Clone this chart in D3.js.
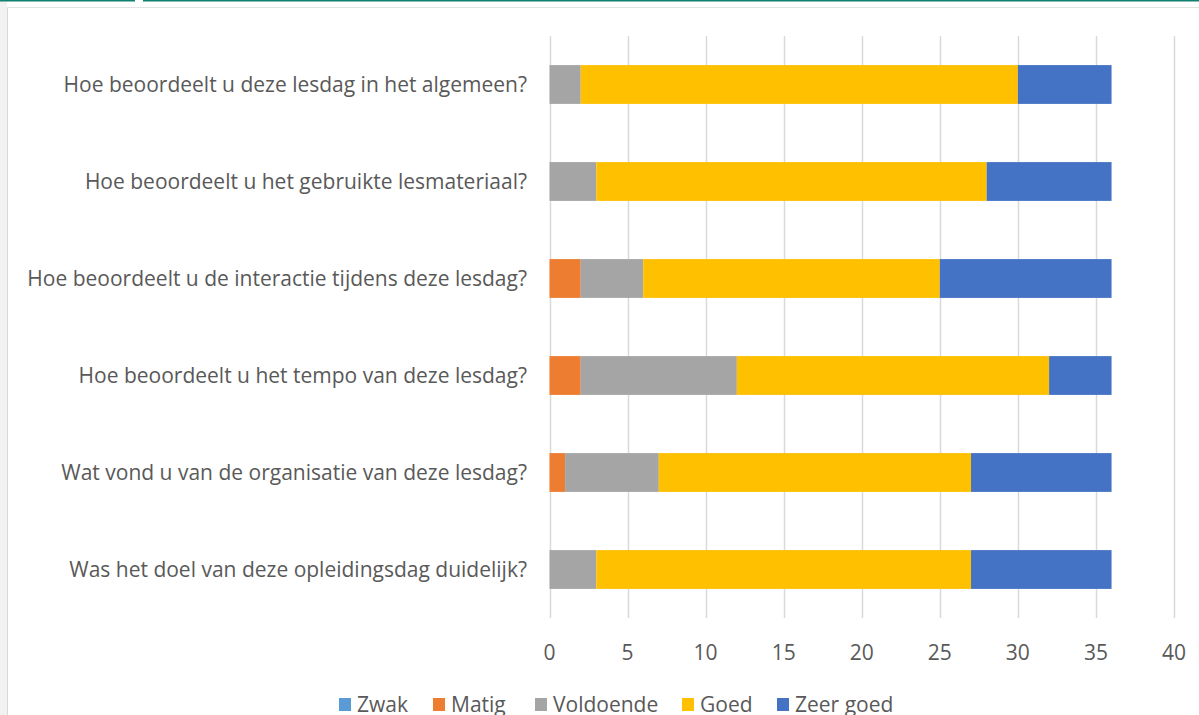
<!DOCTYPE html>
<html>
<head>
<meta charset="utf-8">
<script src="https://cdn.jsdelivr.net/npm/d3@7"></script>
<style>
  body { margin: 0; background: #fff; }
  svg { display: block; }
</style>
</head>
<body>
<div id="vis"></div>
<script>
const WIDTH = 1199;
const HEIGHT = 715;

// data
const vragen = [
  "Hoe beoordeelt u deze lesdag in het algemeen?",
  "Hoe beoordeelt u het gebruikte lesmateriaal?",
  "Hoe beoordeelt u de interactie tijdens deze lesdag?",
  "Hoe beoordeelt u het tempo van deze lesdag?",
  "Wat vond u van de organisatie van deze lesdag?",
  "Was het doel van deze opleidingsdag duidelijk?"
];
const categorieen = ["Zwak", "Matig", "Voldoende", "Goed", "Zeer goed"];
const zwak      = [0, 0, 0, 0, 0, 0];
const matig     = [0, 0, 2, 2, 1, 0];
const voldoende = [2, 3, 4, 10, 6, 3];
const goed      = [28, 25, 19, 20, 20, 24];
const zeerGoed  = [6, 8, 11, 4, 9, 9];
const xTicks = [0, 5, 10, 15, 20, 25, 30, 35, 40];

const kleuren = ["#5B9BD5", "#ED7D31", "#A5A5A5", "#FFC000", "#4472C4"];
const FONT = "'Open Sans', 'Liberation Sans', sans-serif";

const rows = vragen.map((v, i) => ({
  vraag: v,
  "Zwak": zwak[i], "Matig": matig[i], "Voldoende": voldoende[i],
  "Goed": goed[i], "Zeer goed": zeerGoed[i]
}));
const series = d3.stack().keys(categorieen)(rows);

const svg = d3.select("#vis").append("svg")
  .attr("width", WIDTH).attr("height", HEIGHT);

// frame decorations
svg.append("rect").attr("x", 0).attr("y", 0).attr("width", 7).attr("height", HEIGHT).attr("fill", "#f2f2f2");
svg.append("line").attr("x1", 7.5).attr("x2", 7.5).attr("y1", 7).attr("y2", HEIGHT).attr("stroke", "#d9d9d9");
svg.append("line").attr("x1", 7).attr("x2", WIDTH).attr("y1", 7.5).attr("y2", 7.5).attr("stroke", "#e3e3e3");
svg.append("rect").attr("x", 0).attr("y", 0).attr("width", 135).attr("height", 1.5).attr("fill", "#11806f");
svg.append("rect").attr("x", 143).attr("y", 0).attr("width", WIDTH - 143).attr("height", 1.5).attr("fill", "#11806f");

// scales
const x = d3.scaleLinear().domain([0, 40]).range([549.5, 1174]);
const y = d3.scaleBand().domain(vragen).range([36, 618]).paddingInner(0.6).paddingOuter(0.3);

// gridlines
svg.append("g").selectAll("line").data(xTicks).join("line")
  .attr("x1", d => Math.round(x(d)) + 0.5).attr("x2", d => Math.round(x(d)) + 0.5)
  .attr("y1", 36).attr("y2", 618)
  .attr("stroke", "#d9d9d9").attr("stroke-width", 1.5);

// bars
svg.append("g").selectAll("g").data(series).join("g")
  .attr("fill", (d, i) => kleuren[i])
  .selectAll("rect").data(d => d).join("rect")
  .attr("x", d => x(d[0]))
  .attr("width", d => x(d[1]) - x(d[0]))
  .attr("y", d => y(d.data.vraag))
  .attr("height", y.bandwidth());

// category labels
svg.append("g").selectAll("text").data(vragen).join("text")
  .attr("x", 527).attr("y", d => y(d) + y.bandwidth() / 2)
  .attr("dy", "0.35em")
  .attr("text-anchor", "end")
  .attr("fill", "#595959")
  .style("font-family", FONT).style("font-size", "21px")
  .text(d => d);

// x tick labels
svg.append("g").selectAll("text").data(xTicks).join("text")
  .attr("x", d => x(d)).attr("y", 660)
  .attr("text-anchor", "middle")
  .attr("fill", "#595959")
  .style("font-family", FONT).style("font-size", "21px")
  .text(d => d);

// legend
const legendX = [339, 433, 535, 682, 777];
const legend = svg.append("g").selectAll("g").data(categorieen).join("g")
  .attr("transform", (d, i) => `translate(${legendX[i]},0)`);
legend.append("rect").attr("x", 0).attr("y", 698).attr("width", 12).attr("height", 13)
  .attr("fill", (d, i) => kleuren[i]);
legend.append("text").attr("x", 18).attr("y", 712)
  .attr("fill", "#595959")
  .style("font-family", FONT).style("font-size", "21px")
  .text(d => d);
</script>
</body>
</html>
